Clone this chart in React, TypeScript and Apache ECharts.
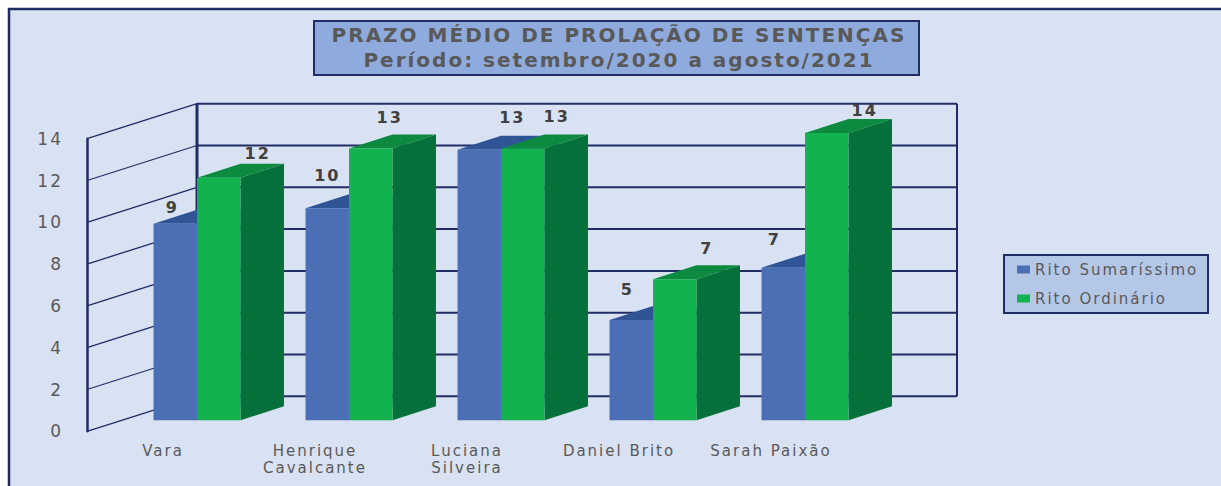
import React, { useEffect, useRef } from "react";
import * as echarts from "echarts";

const categories = ["Vara", "Henrique\nCavalcante", "Luciana\nSilveira", "Daniel Brito", "Sarah Paixão"];
const sumarissimo = [9.4, 10.15, 12.95, 4.8, 7.3];
const ordinario = [11.6, 13.0, 13.0, 6.75, 13.75];
const sumarissimoLabels = ["9", "10", "13", "5", "7"];
const ordinarioLabels = ["12", "13", "13", "7", "14"];
const yTicks = [0, 2, 4, 6, 8, 10, 12, 14];
const titleText = "PRAZO MÉDIO DE PROLAÇÃO DE SENTENÇAS\nPeríodo: setembro/2020 a agosto/2021";

// Layout of the pseudo-3D box (pixels)
const wallDX = 110;
const wallDY = -35;
const planeDX = 34;
const planeDY = -11;
const barDX = 43.5;
const barDY = -14;
const barShare = 0.286;
const sumLabelNudge: number[][] = [[-3, -16], [0, -33], [33, -32], [-4, -30], [-9, -28]];
const ordLabelNudge: number[][] = [[39, -24], [19, -31], [34, -32], [32, -31], [38, -22]];

const NAVY = "#1f2c66";
const GREY = "#595959";
const DARK = "#404040";
const FONT = "DejaVu Sans";

function wallRender(params: any, api: any) {
  const v = api.value(1);
  const p = api.coord([0, v]);
  const sys = params.coordSys;
  const x0 = sys.x;
  const bx = x0 + wallDX;
  const by = p[1] + wallDY;
  const children: any[] = [
    { type: "line", shape: { x1: x0, y1: p[1], x2: bx, y2: by }, style: { stroke: NAVY, lineWidth: 1.3 } },
    { type: "line", shape: { x1: bx, y1: by, x2: bx + sys.width, y2: by }, style: { stroke: NAVY, lineWidth: 2 } },
  ];
  if (v === yTicks[yTicks.length - 1]) {
    const bottom = sys.y + sys.height + wallDY;
    children.push(
      { type: "line", shape: { x1: bx, y1: by, x2: bx, y2: bottom }, style: { stroke: NAVY, lineWidth: 3 } },
      { type: "line", shape: { x1: bx + sys.width, y1: by, x2: bx + sys.width, y2: bottom }, style: { stroke: NAVY, lineWidth: 2 } }
    );
  }
  return { type: "group", children };
}

function barRender(slot: number, front: string, top: string, side: string, labels: string[], nudges: number[][]) {
  return (_params: any, api: any) => {
    const i = api.value(0);
    const v = api.value(1);
    const t = api.coord([i, v]);
    const b = api.coord([i, 0]);
    const w = api.size([1, 0])[0] * barShare;
    const x1 = t[0] + planeDX + (slot - 1) * w;
    const x2 = x1 + w;
    const yT = t[1] + planeDY;
    const yB = b[1] + planeDY;
    const n = nudges[i];
    return {
      type: "group",
      children: [
        { type: "polygon", shape: { points: [[x2, yT], [x2 + barDX, yT + barDY], [x2 + barDX, yB + barDY], [x2, yB]] }, style: { fill: side } },
        { type: "polygon", shape: { points: [[x1, yT], [x1 + barDX, yT + barDY], [x2 + barDX, yT + barDY], [x2, yT]] }, style: { fill: top } },
        { type: "rect", shape: { x: x1, y: yT, width: w, height: yB - yT }, style: { fill: front } },
        {
          type: "text",
          z2: 50,
          style: {
            x: (x1 + x2) / 2 + n[0],
            y: yT + n[1],
            text: labels[i],
            fill: DARK,
            font: `bold 16px "${FONT}"`,
            align: "center",
            verticalAlign: "middle",
          },
        },
      ],
    };
  };
}

export default function App() {
  const ref = useRef<HTMLDivElement>(null);
  useEffect(() => {
    const chart = echarts.init(ref.current!, undefined, { renderer: "svg" });
    chart.setOption({
      animation: false,
      backgroundColor: "#ffffff",
      textStyle: { fontFamily: FONT },
      title: {
        text: titleText,
        left: 614,
        top: 17,
        textAlign: "center",
        textStyle: { fontSize: 20, fontWeight: "bold", color: GREY, lineHeight: 25, fontFamily: FONT },
      },
      legend: {
        data: ["Rito Sumaríssimo", "Rito Ordinário"],
        orient: "vertical",
        left: 1017,
        top: 262,
        padding: 0,
        itemWidth: 13,
        itemHeight: 8,
        itemGap: 14,
        icon: "rect",
        textStyle: { fontSize: 15, color: GREY, fontFamily: FONT, padding: [0, 0, 0, 0] },
      },
      graphic: {
        elements: [
          { type: "rect", z: -10, silent: true, shape: { x: 9, y: 9, width: 1220, height: 486 }, style: { fill: "#d9e2f3", stroke: NAVY, lineWidth: 2.5 } },
          { type: "rect", z: -5, silent: true, shape: { x: 314, y: 21, width: 605, height: 54 }, style: { fill: "#8faadc", stroke: NAVY, lineWidth: 2 } },
          { type: "rect", z: -5, silent: true, shape: { x: 1004, y: 255, width: 204, height: 58 }, style: { fill: "#b4c7e7", stroke: NAVY, lineWidth: 2 } },
        ],
      },
      grid: { left: 87, top: 138.7, width: 760, height: 292.6 },
      xAxis: {
        type: "category",
        data: categories,
        axisLine: { show: false },
        axisTick: { show: false },
        axisLabel: { margin: 11, fontSize: 15, lineHeight: 17, color: GREY, fontFamily: FONT, interval: 0 },
      },
      yAxis: {
        type: "value",
        min: 0,
        max: 14,
        interval: 2,
        axisLine: { show: true, lineStyle: { color: NAVY, width: 2.5 } },
        axisTick: { show: false },
        splitLine: { show: false },
        axisLabel: { margin: 24, fontSize: 17, color: GREY, fontFamily: FONT, padding: [4, 0, 0, 0] },
      },
      series: [
        {
          type: "custom",
          name: "walls",
          clip: false,
          silent: true,
          z: 1,
          data: yTicks.map((v) => [0, v]),
          encode: { x: 0, y: 1 },
          renderItem: wallRender,
        },
        {
          type: "custom",
          name: "Rito Sumaríssimo",
          clip: false,
          z: 3,
          itemStyle: { color: "#4a6fb5" },
          data: sumarissimo.map((v, i) => [i, v]),
          encode: { x: 0, y: 1 },
          renderItem: barRender(0, "#4a6fb5", "#2f5597", "#2f5597", sumarissimoLabels, sumLabelNudge),
        },
        {
          type: "custom",
          name: "Rito Ordinário",
          clip: false,
          z: 4,
          itemStyle: { color: "#12b24f" },
          data: ordinario.map((v, i) => [i, v]),
          encode: { x: 0, y: 1 },
          renderItem: barRender(1, "#12b24f", "#0b8a40", "#06703a", ordinarioLabels, ordLabelNudge),
        },
      ],
    });
    return () => chart.dispose();
  }, []);
  return (
    <div
      ref={ref}
      style={{ position: "absolute", left: 0, top: 0, width: 1221, height: 486, letterSpacing: "2px", overflow: "hidden" }}
    />
  );
}
